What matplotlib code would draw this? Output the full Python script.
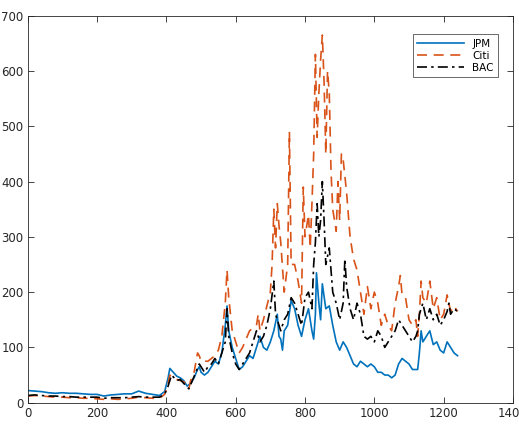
import matplotlib.pyplot as plt
import numpy as np

# values
jpm_x = [0, 20, 40, 60, 80, 100, 120, 140, 160, 180, 200, 220, 240, 260, 280, 300, 320, 340, 360, 380, 395,
         405, 410, 420, 430, 440, 450, 460, 470, 480, 490, 495, 500, 510, 520, 530, 540, 550, 560, 570, 575,
         580, 590, 600, 610, 620, 630, 640, 650, 660, 670, 680, 690, 700, 710, 720, 725, 730, 735, 740, 750,
         760, 770, 780, 790, 800, 810, 820, 825, 830, 833, 840, 845, 850, 860, 870, 880, 890, 900, 910, 920,
         930, 940, 950, 960, 970, 980, 990, 1000, 1010, 1020, 1030, 1040, 1050, 1060, 1070, 1080, 1090, 1100,
         1110, 1120, 1125, 1130, 1135, 1140, 1150, 1160, 1170, 1180, 1190, 1200, 1210, 1220, 1230, 1240]
jpm_y = [22, 21, 20, 18, 17, 18, 17, 17, 16, 15, 15, 12, 14, 15, 16, 16, 21, 17, 15, 13, 20,
         45, 62, 55, 48, 45, 40, 30, 35, 45, 60, 65, 55, 50, 55, 65, 75, 70, 90, 140, 175,
         130, 100, 80, 60, 65, 75, 85, 80, 100, 120, 100, 95, 110, 130, 160, 120, 115, 95, 130, 140,
         185, 170, 140, 120, 150, 170, 130, 115, 160, 235, 180, 150, 215, 170, 175, 140, 110, 95, 110, 100,
         85, 70, 65, 75, 70, 65, 70, 65, 55, 55, 50, 50, 45, 50, 70, 80, 75, 70,
         60, 60, 60, 90, 130, 110, 120, 130, 105, 110, 95, 90, 110, 100, 90, 85]

citi_x = [0, 20, 40, 60, 80, 100, 120, 140, 160, 180, 200, 220, 240, 260, 280, 300, 320, 340, 360, 380, 395,
          405, 410, 420, 430, 440, 450, 465, 470, 480, 490, 495, 500, 510, 520, 530, 540, 550, 560, 570, 575,
          580, 590, 600, 610, 620, 630, 640, 650, 660, 665, 670, 680, 690, 700, 705, 710, 715, 720, 725, 730,
          740, 750, 755, 760, 770, 780, 790, 795, 800, 805, 810, 815, 820, 825, 830, 835, 840, 845, 850, 855,
          860, 865, 870, 875, 880, 890, 895, 900, 905, 910, 920, 930, 940, 950, 960, 970, 980, 990, 1000,
          1010, 1020, 1030, 1040, 1050, 1060, 1070, 1075, 1080, 1090, 1100, 1110, 1120, 1125, 1130, 1135,
          1140, 1150, 1160, 1170, 1180, 1190, 1200, 1210, 1220, 1230, 1240]
citi_y = [12, 13, 12, 11, 10, 10, 9, 9, 8, 8, 7, 6, 7, 6, 7, 8, 10, 9, 8, 8, 15,
          35, 50, 45, 42, 40, 38, 25, 40, 55, 90, 85, 75, 75, 75, 80, 85, 95, 120, 180, 240,
          190, 130, 110, 90, 100, 115, 130, 135, 140, 160, 130, 150, 175, 200, 250, 350, 280, 360, 320, 290,
          200, 250, 490, 250, 250, 220, 180, 390, 300, 320, 340, 280, 360, 450, 630, 480, 560, 620, 665, 580,
          450, 600, 560, 420, 350, 310, 400, 330, 450, 440, 380, 300, 260, 240, 200, 160, 210, 170, 200,
          180, 140, 160, 140, 130, 180, 210, 230, 195, 190, 150, 140, 150, 120, 160, 220,
          190, 180, 220, 170, 190, 150, 160, 195, 165, 175, 165]

bac_x = [0, 20, 40, 60, 80, 100, 120, 140, 160, 180, 200, 220, 240, 260, 280, 300, 320, 340, 360, 380, 395,
         405, 410, 415, 430, 440, 450, 465, 475, 485, 495, 510, 520, 530, 540, 550, 560, 570, 575,
         580, 590, 600, 610, 620, 630, 640, 650, 660, 670, 680, 690, 700, 710, 715, 720, 730, 740, 750,
         760, 770, 780, 790, 800, 810, 820, 825, 830, 835, 840, 845, 850, 855, 860, 870, 875, 880, 890,
         900, 910, 915, 920, 930, 940, 950, 960, 970, 980, 990, 1000, 1010, 1020, 1030, 1040, 1050, 1060,
         1070, 1080, 1090, 1100, 1110, 1120, 1125, 1130, 1140, 1150, 1160, 1170, 1180, 1190, 1200, 1210,
         1215, 1220, 1230, 1240]
bac_y = [13, 14, 13, 12, 12, 11, 11, 10, 10, 10, 10, 8, 9, 9, 9, 10, 11, 10, 10, 10, 15,
         30, 40, 50, 40, 42, 35, 25, 40, 55, 70, 55, 65, 70, 80, 70, 90, 110, 170,
         120, 90, 70, 60, 70, 80, 90, 110, 130, 110, 120, 140, 170, 220, 160, 150, 130, 150, 160,
         190, 180, 160, 140, 190, 200, 170, 250, 290, 360, 300, 330, 400, 330, 250, 280, 240, 200, 180,
         150, 180, 260, 210, 170, 150, 180, 160, 120, 115, 120, 110, 130, 120, 100, 110, 120, 130,
         150, 140, 130, 120, 110, 120, 130, 160, 180, 150, 170, 150, 160, 140, 150, 165,
         180, 160, 170, 165]

blue = '#0072BD'
orange = '#D95319'
axcol = '#262626'

fig = plt.figure(figsize=(5.19, 4.36), dpi=100)
ax = fig.add_axes([0.0534, 0.0764, 0.935, 0.8876])

ax.plot(jpm_x, jpm_y, color=blue, lw=1.2, label='JPM')
ax.plot(citi_x, citi_y, color=orange, lw=1.2, ls=(0, (6, 4)), label='Citi')
ax.plot(bac_x, bac_y, color='black', lw=1.2, ls=(0, (6, 2.5, 1.5, 2.5)), label='BAC')

ax.set_xlim(0, 1400)
ax.set_ylim(0, 700)
ax.set_xticks(np.arange(0, 1401, 200))
ax.set_yticks(np.arange(0, 701, 100))
ax.tick_params(direction='in', top=True, right=True, length=4, width=0.6,
               colors=axcol, labelsize=8.5, labelcolor=axcol, pad=3)
for s in ax.spines.values():
    s.set_color(axcol)
    s.set_linewidth(0.6)

leg = ax.legend(loc='upper right', bbox_to_anchor=(0.98, 0.965), fontsize=7.5,
                handlelength=4.5, fancybox=False, borderpad=0.4, labelspacing=0.2)
leg.get_frame().set_edgecolor(axcol)
leg.get_frame().set_linewidth(0.6)

plt.savefig('out.png', dpi=100)
